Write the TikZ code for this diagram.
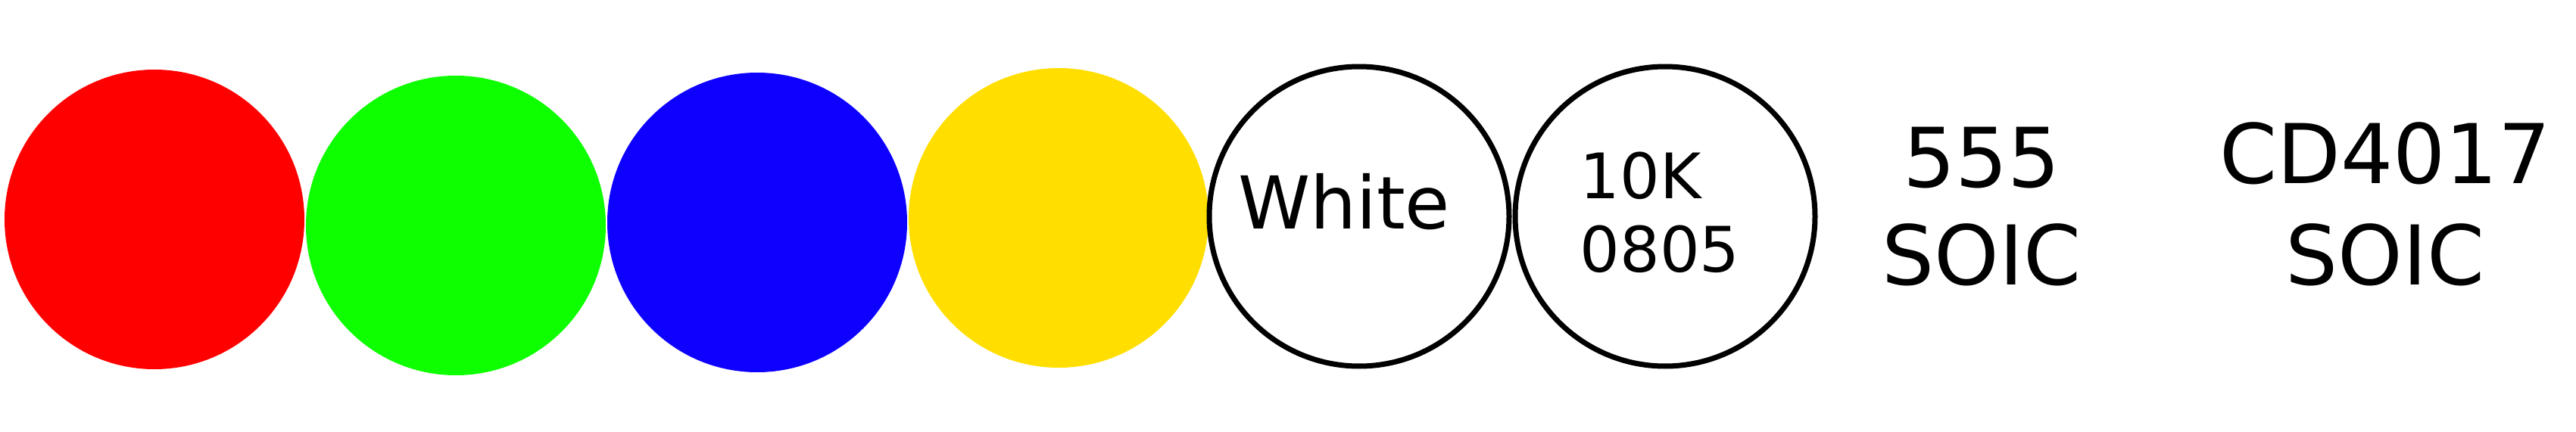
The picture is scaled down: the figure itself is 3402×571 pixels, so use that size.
\documentclass[tikz,border=0pt]{standalone}
\usepackage{fontspec}
\setmainfont{DejaVu Sans}
\usepackage{xcolor}
\usepackage{tikz}
\usetikzlibrary{positioning}
\definecolor{ledRojo}{HTML}{FF0000}
\definecolor{ledVerde}{HTML}{0DFF00}
\definecolor{ledAzul}{HTML}{0D00FF}
\definecolor{ledAmarillo}{HTML}{FFDE00}

\begin{document}
\begin{tikzpicture}[x=0.1mm,y=-0.1mm,
    led/.style={circle,inner sep=0pt,minimum size=39.6mm},
    smd/.style={circle,draw=black,line width=0.7mm,inner sep=0pt,
                minimum size=39.6mm},
    rotulo/.style={inner sep=0pt,anchor=base,align=center}]
  \path[use as bounding box] (0,0) rectangle (3402,571);
  \node[led,fill=ledRojo]     (rojo)     at (204,290) {};
  \node[led,fill=ledVerde]    (verde)    at (602,298) {};
  \node[led,fill=ledAzul]     (azul)     at (1000,294) {};
  \node[led,fill=ledAmarillo] (amarillo) at (1398,288) {};
  \node[smd] (blanco)   at (1795,286) {};
  \node[smd] (resistor) at (2199,286) {};

  % el ancla base de un nodo de varias lineas cae en la ultima linea
  \node[rotulo,font=\fontsize{27.4}{34}\selectfont] (txtBlanco) at (1775,302) {White};
  \node[rotulo,align=left,anchor=base west,font=\fontsize{23.6}{27.6}\selectfont]
    (txtResistor) at (2086,359) {10K\\0805};
  \node[rotulo,font=\fontsize{31}{36.7}\selectfont] (txtTimer) at (2617,376) {555\\SOIC};
  \node[rotulo,font=\fontsize{31}{38.1}\selectfont] (txtContador) at (3150,376) {CD4017\\SOIC};
\end{tikzpicture}
\end{document}
